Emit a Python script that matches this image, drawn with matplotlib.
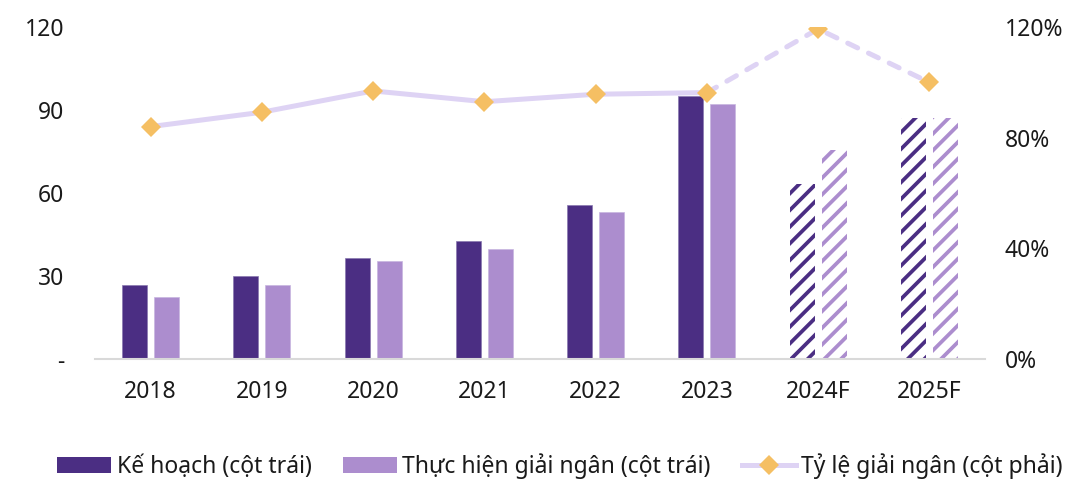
import matplotlib
matplotlib.use("Agg")
import matplotlib.pyplot as plt
from matplotlib.patches import Patch
from matplotlib.lines import Line2D
from matplotlib.ticker import FuncFormatter

# Data
years = ["2018", "2019", "2020", "2021", "2022", "2023", "2024F", "2025F"]
ke_hoach = [26.7, 30.0, 36.4, 42.6, 55.5, 95.0, 63.2, 87.2]
thuc_hien = [22.4, 26.7, 35.3, 39.8, 53.1, 92.2, 75.5, 87.2]
ty_le = [84.0, 89.2, 96.9, 93.0, 95.7, 96.3, 119.3, 100.0]
n_actual = 6  # 2018-2023 are actual, the rest forecast

DARK = "#4B2E83"
LIGHT = "#AC8DCE"
LINE = "#DED3F4"
MARK = "#F5BF63"
TEXT = "#1a1a1a"
FS = 16.5

plt.rcParams["font.family"] = ["Noto Sans", "DejaVu Sans"]
plt.rcParams["hatch.linewidth"] = 2.7

fig = plt.figure(figsize=(10.71, 4.79), dpi=100)
ax = fig.add_axes([0.0887, 0.2505, 0.831, 0.6931])
ax2 = ax.twinx()

x = list(range(len(years)))
w = 0.225
off = 0.143

for i in x:
    if i < n_actual:
        ax.bar(i - off, ke_hoach[i], w, color=DARK, edgecolor="#8a78b0", linewidth=0.5, zorder=2)
        ax.bar(i + off, thuc_hien[i], w, color=LIGHT, edgecolor="#c8b6e0", linewidth=0.5, zorder=2)
    else:
        ax.bar(i - off, ke_hoach[i], w, color="white", edgecolor=DARK, hatch="//", linewidth=0, zorder=2)
        ax.bar(i + off, thuc_hien[i], w, color="white", edgecolor=LIGHT, hatch="//", linewidth=0, zorder=2)

ax.set_xlim(-0.5, len(years) - 0.5)
ax.set_ylim(0, 120)
ax.set_yticks([0, 30, 60, 90, 120])
ax.yaxis.set_major_formatter(FuncFormatter(lambda v, p: "-" if v == 0 else f"{v:.0f}"))
ax.set_xticks(x)
ax.set_xticklabels(years)
ax.tick_params(axis="y", length=0, pad=22, labelsize=FS, labelcolor=TEXT)
ax.tick_params(axis="x", length=0, pad=15, labelsize=FS, labelcolor=TEXT)
for s in ["top", "left", "right"]:
    ax.spines[s].set_visible(False)
ax.spines["bottom"].set_color("#d9d9d9")
ax.spines["bottom"].set_linewidth(1.5)

# ratio line: solid for actual years, dashed for forecast
ax2.plot(x[:n_actual], ty_le[:n_actual], color=LINE, linewidth=3.6,
         solid_capstyle="round", zorder=3)
ax2.plot(x[n_actual - 1:], ty_le[n_actual - 1:], color=LINE, linewidth=3.6,
         linestyle=(0, (2.2, 2.4)), dash_capstyle="round", zorder=3)
ax2.plot(x, ty_le, linestyle="none", marker="D", markersize=10,
         color=MARK, markeredgewidth=0, zorder=4)
ax2.set_ylim(0, 120)
ax2.set_yticks([0, 40, 80, 120])
ax2.yaxis.set_major_formatter(FuncFormatter(lambda v, p: f"{v:.0f}%"))
ax2.tick_params(axis="y", length=0, pad=14, labelsize=FS, labelcolor=TEXT)
for s in ["top", "left", "right", "bottom"]:
    ax2.spines[s].set_visible(False)

handles = [
    Patch(facecolor=DARK, edgecolor="none"),
    Patch(facecolor=LIGHT, edgecolor="none"),
    Line2D([0], [0], color=LINE, linewidth=3.6, marker="D", markersize=10,
           markerfacecolor=MARK, markeredgewidth=0),
]
labels = ["Kế hoạch (cột trái)", "Thực hiện giải ngân (cột trái)", "Tỷ lệ giải ngân (cột phải)"]
fig.legend(handles, labels, loc="center", bbox_to_anchor=(0.523, 0.027), ncol=3,
           frameon=False, fontsize=FS, handlelength=2.35, handleheight=0.65,
           handletextpad=0.25, columnspacing=1.35, labelcolor=TEXT)

fig.savefig("out.png", dpi=100)
